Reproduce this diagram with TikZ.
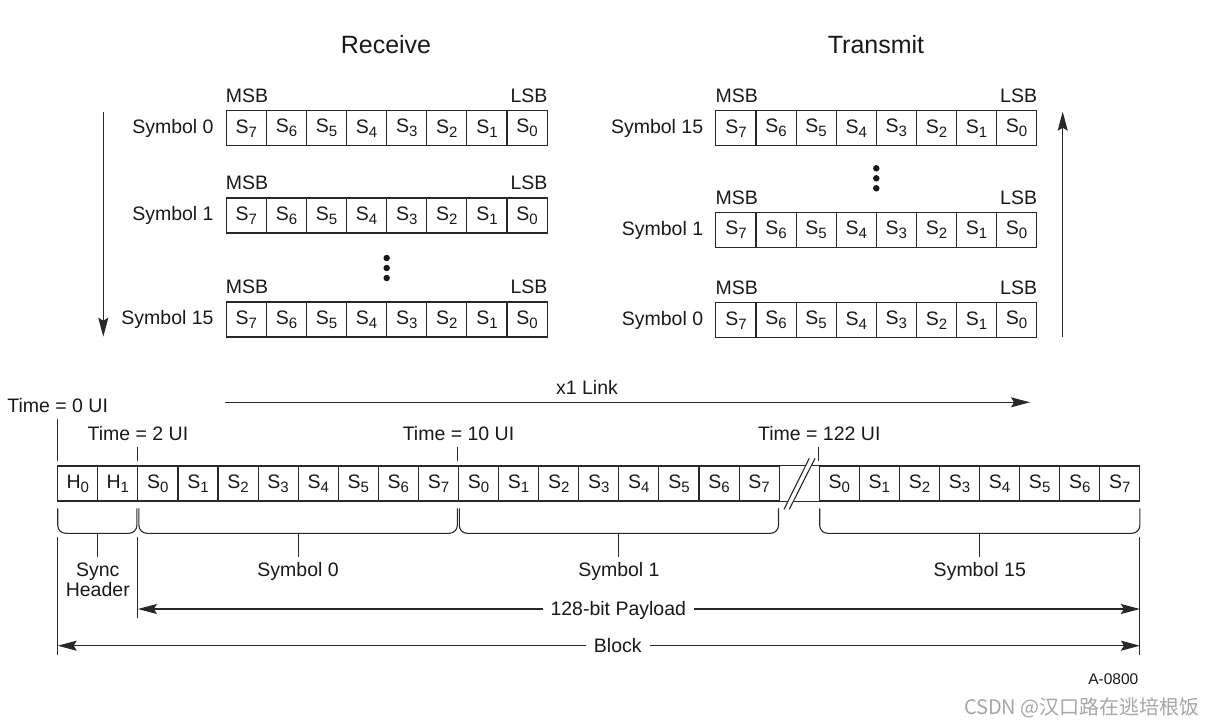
\documentclass[tikz,border=0pt]{standalone}
\usepackage{fontspec}
\setmainfont{Liberation Sans}
\newfontfamily\cjkfont{Noto Sans CJK SC}
\usetikzlibrary{arrows.meta}
\newcommand{\Sx}[2]{#1\raisebox{-4pt}{\fontsize{15}{15}\selectfont #2}}
\definecolor{ink}{RGB}{25,25,25}
\definecolor{linec}{RGB}{40,40,40}
\tikzset{
  cell/.style={draw=linec, line width=1.1pt, minimum width=40.1pt, minimum height=35pt, inner sep=0pt, font=\fontsize{19.5}{20}\selectfont, text=ink},
  lbl/.style={font=\fontsize{19.5}{20}\selectfont, text=ink, inner sep=0pt},
  ttl/.style={font=\fontsize{25}{26}\selectfont, text=ink, inner sep=0pt},
  ln/.style={draw=linec, line width=1.1pt},
  arr/.style={-{Stealth[length=19pt,width=10pt,inset=3pt]}},
  darr/.style={{Stealth[length=19pt,width=10pt,inset=3pt]}-{Stealth[length=19pt,width=10pt,inset=3pt]}},
  blob/.style={circle, fill=ink, inner sep=0pt, minimum size=6.5pt},
}
\begin{document}
\begin{tikzpicture}[x=1pt,y=-1pt]
\useasboundingbox (0,0) rectangle (1216,726);

% titles
\node[ttl] (recv) at (386,45) {Receive};
\node[ttl] (trans) at (876,45) {Transmit};

% symbol rows
\foreach \rw/\xl/\yc/\lab in {La/226.3/128.2/Symbol 0, Lb/226.3/215.5/Symbol 1, Lc/226.3/319.5/Symbol 15, Ra/715.9/128.2/Symbol 15, Rb/715.9/230/Symbol 1, Rc/715.9/320.2/Symbol 0} {
  \foreach \d [count=\k from 0] in {7,6,5,4,3,2,1,0} {
    \node[cell] (\rw\k) at ({\xl+40.1*\k+20.05},\yc) {\Sx{S}{\d}};
  }
  \node[lbl, anchor=base east] (\rw-lab) at ([xshift=-12pt,yshift=-5.1pt]\rw0.west) {\lab};
  \node[lbl, anchor=base west] (\rw-msb) at ([yshift=7.5pt]\rw0.north west) {MSB};
  \node[lbl, anchor=base east] (\rw-lsb) at ([yshift=7.5pt]\rw7.north east) {LSB};
}

% dots
\node[blob] (ld1) at (386.7,258) {};
\node[blob] (ld2) at (386.7,268) {};
\node[blob] (ld3) at (386.7,278) {};
\node[blob] (rd1) at (876.3,168.3) {};
\node[blob] (rd2) at (876.3,178.3) {};
\node[blob] (rd3) at (876.3,188.3) {};

% order arrows
\coordinate (ra1) at (103.3,111.7);
\coordinate (ra2) at (103.3,336.7);
\draw[ln,arr] (ra1) -- (ra2);
\coordinate (ta1) at (1062.7,336.7);
\coordinate (ta2) at (1062.7,111.7);
\draw[ln,arr] (ta1) -- (ta2);

% bottom strip
\node[cell] (B0) at ({57.7+40.08*0.5},483.5) {\Sx{H}{0}};
\node[cell] (B1) at ({57.7+40.08*1.5},483.5) {\Sx{H}{1}};
\foreach \d in {0,...,7} {
  \pgfmathtruncatemacro\ia{\d+2}
  \pgfmathtruncatemacro\ib{\d+10}
  \pgfmathtruncatemacro\ic{\d+19}
  \node[cell] (B\ia) at ({57.7+40.08*(\ia+0.5)},483.5) {\Sx{S}{\d}};
  \node[cell] (B\ib) at ({57.7+40.08*(\ib+0.5)},483.5) {\Sx{S}{\d}};
  \node[cell] (B\ic) at ({57.7+40.08*(\ic+0.5)},483.5) {\Sx{S}{\d}};
}
\draw[ln] (B17.north east) -- (B19.north west);
\draw[ln] (B17.south east) -- (B19.south west);
% break mark
\fill[white] (784,509.3) -- (809.3,458.3) -- (815,458.3) -- (789.3,509.3) -- cycle;
\draw[ln] (784,509.3) -- (809.3,458.3);
\draw[ln] (789.3,509.3) -- (815,458.3);

% time markers
\node[lbl, anchor=base] (t0) at (57.7,412.8) {Time = 0 UI};
\draw[ln] ([yshift=4.3pt]B0.north west) -- ([yshift=46.7pt]B0.north west);
\node[lbl, anchor=base] (t2) at (137.9,440.8) {Time = 2 UI};
\draw[ln] ([yshift=4.3pt]B2.north west) -- ([yshift=18pt]B2.north west);
\node[lbl, anchor=base] (t10) at (458.5,440.8) {Time = 10 UI};
\draw[ln] ([yshift=4.3pt]B10.north west) -- ([yshift=18pt]B10.north west);
\node[lbl, anchor=base] (t122) at (819.3,440.8) {Time = 122 UI};
\draw[ln] ([yshift=4.3pt]B19.north west) -- ([yshift=18pt]B19.north west);

% x1 link
\coordinate (lk1) at (225.3,402.3);
\coordinate (lk2) at (1030,402.3);
\draw[ln,arr] (lk1) -- (lk2);
\node[lbl, anchor=base] (lk) at (587,394) {x1 Link};

% braces
\foreach \n/\a/\b in {sh/57.7/136.9, s0/138.9/457.3, s1/459.3/778.5, s15/819.7/1139.9} {
  \draw[ln, rounded corners=8pt] (\a,508.3) -- (\a,533.3) -- (\b,533.3) -- (\b,508.3);
  \coordinate (\n-c) at ({(\a+\b)/2},533.3);
  \coordinate (\n-d) at ({(\a+\b)/2},556.7);
  \draw[ln] (\n-c) -- (\n-d);
}
\node[lbl, anchor=base] (sync) at (97.8,576.8) {Sync};
\node[lbl, anchor=base] (hdr) at (97.8,596.8) {Header};
\node[lbl, anchor=base] (sym0) at (298.1,576.8) {Symbol 0};
\node[lbl, anchor=base] (sym1) at (618.9,576.8) {Symbol 1};
\node[lbl, anchor=base] (sym15) at (979.8,576.8) {Symbol 15};

% extension lines
\coordinate (e0a) at (57.7,536.7);  \coordinate (e0b) at (57.7,655);
\coordinate (e2a) at (137.9,536.7); \coordinate (e2b) at (137.9,618.3);
\coordinate (e9a) at (1139.9,536.7); \coordinate (e9b) at (1139.9,654.5);
\draw[ln] (e0a) -- (e0b);
\draw[ln] (e2a) -- (e2b);
\draw[ln] (e9a) -- (e9b);

% payload and block
\coordinate (pl1) at (137.9,609);
\coordinate (pl2) at (1139.9,609);
\draw[ln,darr] (pl1) -- (pl2);
\node[lbl, anchor=base, fill=white, inner xsep=8pt, inner ysep=2pt] (pay) at (618.3,615.8) {128-bit Payload};
\coordinate (bk1) at (57.7,645.7);
\coordinate (bk2) at (1139.9,645.7);
\draw[ln,darr] (bk1) -- (bk2);
\node[lbl, anchor=base, fill=white, inner xsep=8pt, inner ysep=2pt] (blk) at (617.8,652.5) {Block};

% figure id and watermark
\node[font=\fontsize{15.5}{16}\selectfont, text=ink, anchor=base, inner sep=0pt] (fid) at (1113.3,684.5) {A-0800};
\node[font=\cjkfont\fontsize{20}{20}\selectfont, text=black!35, anchor=base east, inner sep=0pt] (wm) at (1200,714) {CSDN @汉口路在逃培根饭};
\end{tikzpicture}
\end{document}
